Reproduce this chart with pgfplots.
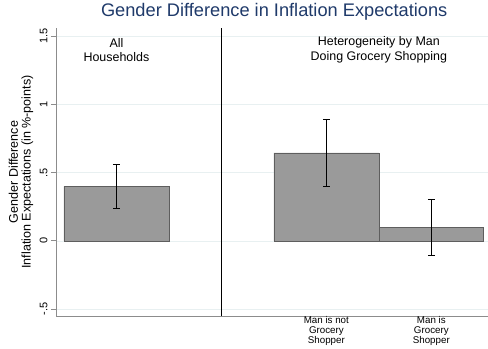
\documentclass[border=0pt]{standalone}
\usepackage{pgfplots}
\pgfplotsset{compat=1.18}
\usepackage{fontspec}
\setmainfont{Liberation Sans}
\definecolor{titleblue}{HTML}{1F3A6A}
\definecolor{barfill}{HTML}{9A9A9A}
\definecolor{baredge}{HTML}{5E5E5E}
\definecolor{axisgray}{HTML}{8C8C8C}
\definecolor{gridcol}{HTML}{E8F0F1}

% point estimates with symmetric confidence half-widths
\begin{document}
\begin{tikzpicture}[x=1bp,y=1bp]
\useasboundingbox (0,0) rectangle (488,348);
\begin{axis}[
  at={(56bp,32bp)}, anchor=south west,
  scale only axis, width=432bp, height=288bp,
  xmin=-0.576, xmax=3.54, ymin=-0.55, ymax=1.56,
  axis x line*=bottom, axis y line*=left,
  axis line style={axisgray, line width=0.9bp},
  ytick={-0.5,0,0.5,1,1.5},
  yticklabels={-.5,0,.5,1,1.5},
  /pgf/number format/assume math mode=true,
  yticklabel style={rotate=90, anchor=south, font=\fontsize{11}{12}\selectfont},
  ytick style={axisgray, line width=0.9bp},
  tick align=outside, major tick length=5bp,
  xtick={2,3},
  xticklabels={{Man is not\\Grocery\\Shopper},{Man is\\Grocery\\Shopper}},
  xticklabel style={align=center, font=\fontsize{9.8}{10.2}\selectfont, yshift=6bp, inner sep=1bp},
  xtick style={draw=none},
  ymajorgrids, grid style={gridcol, line width=0.8bp},
  ylabel={Gender Difference\\Inflation Expectations (in \%-points)},
  ylabel style={align=center, font=\fontsize{12.6}{12.8}\selectfont, at={(axis description cs:-0.081,0.5)}, anchor=center},
  title={Gender Difference in Inflation Expectations},
  title style={titleblue, font=\fontsize{18.3}{20}\selectfont, at={(axis description cs:0.505,1.0)}, anchor=base, yshift=5.3bp},
  clip=false,
]
\addplot[ybar, bar width=1, fill=barfill, draw=baredge, line width=0.7bp,
  error bars/.cd, y dir=both, y explicit,
  error bar style={black, line width=1bp},
  error mark options={rotate=90, black, line width=1bp, mark size=3.5bp}]
  coordinates {(0,0.40) +- (0,0.16) (2,0.645) +- (0,0.243) (3,0.10) +- (0,0.205)};
% separator between the two panels
\addplot[black, line width=0.9bp, no marks] coordinates {(1,-0.55) (1,1.56)};
\node[align=center, font=\fontsize{12.5}{14.5}\selectfont] at (axis cs:0,1.40) {All\\Households};
\node[align=center, font=\fontsize{12.5}{14.5}\selectfont] at (axis cs:2.5,1.40) {Heterogeneity by Man\\Doing Grocery Shopping};
\end{axis}
\end{tikzpicture}
\end{document}
